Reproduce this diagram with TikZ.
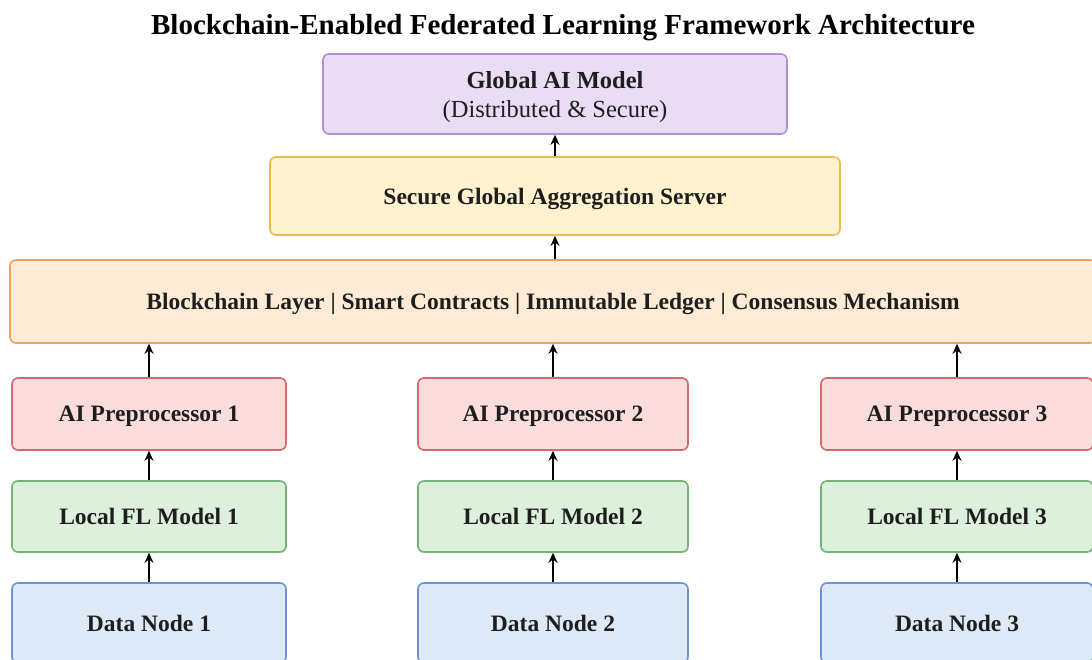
\documentclass[tikz,border=0pt]{standalone}
\usepackage{fontspec}
\setmainfont{Liberation Serif}
\usetikzlibrary{arrows.meta}
\definecolor{purpleFill}{HTML}{EADCF5}
\definecolor{purpleLine}{HTML}{B18FD6}
\definecolor{yellowFill}{HTML}{FFF3CF}
\definecolor{yellowLine}{HTML}{E8BC55}
\definecolor{orangeFill}{HTML}{FDEBD6}
\definecolor{orangeLine}{HTML}{EFA35A}
\definecolor{redFill}{HTML}{FADCDC}
\definecolor{redLine}{HTML}{D46A6A}
\definecolor{greenFill}{HTML}{DCF0DC}
\definecolor{greenLine}{HTML}{76B276}
\definecolor{blueFill}{HTML}{DEE9F8}
\definecolor{blueLine}{HTML}{6E95D2}
\definecolor{textDark}{HTML}{1E1E1E}
\tikzset{
  layerbox/.style={draw, rounded corners=6pt, line width=1.6pt, align=center,
    font=\fontsize{23.5}{27}\selectfont\bfseries, text=textDark, inner sep=0pt,
    text depth=0pt},
  flow/.style={-{Stealth[length=10pt,width=9pt]}, line width=2.2pt, black},
}
\begin{document}
\begin{tikzpicture}[x=1pt,y=-1pt]
  \useasboundingbox (0,0) rectangle (1092,659);
  \clip (0,0) rectangle (1092,659);
  \fill[white] (0,0) rectangle (1092,659);

  \node[font=\fontsize{29}{34}\selectfont\bfseries, text=black] (title) at (563,28)
    {Blockchain-Enabled Federated Learning Framework Architecture};

  \node[layerbox, fill=purpleFill, draw=purpleLine, minimum width=464pt, minimum height=80pt,
        font=\fontsize{24.5}{29}\selectfont\bfseries, text depth=0pt]
    (global) at (555,94) {Global AI Model\\\mdseries (Distributed \& Secure)};
  \node[layerbox, fill=yellowFill, draw=yellowLine, minimum width=570pt, minimum height=78pt]
    (agg) at (555,196) {Secure Global Aggregation Server};
  \node[layerbox, fill=orangeFill, draw=orangeLine, minimum width=1086pt, minimum height=83pt]
    (chain) at (553,301.5) {Blockchain Layer | Smart Contracts | Immutable Ledger | Consensus Mechanism};

  \foreach \i/\cx/\w in {1/149/274, 2/553/270, 3/957/272} {
    \node[layerbox, fill=redFill, draw=redLine, minimum width=\w pt, minimum height=72pt]
      (pre\i) at (\cx,414) {AI Preprocessor \i};
    \node[layerbox, fill=greenFill, draw=greenLine, minimum width=\w pt, minimum height=71pt]
      (fl\i) at (\cx,516.5) {Local FL Model \i};
    \node[layerbox, fill=blueFill, draw=blueLine, minimum width=\w pt, minimum height=80pt]
      (data\i) at (\cx,623) {Data Node \i};
    \draw[flow] (data\i.north) -- (fl\i.south);
    \draw[flow] (fl\i.north) -- (pre\i.south);
    \draw[flow] (pre\i.north) -- (pre\i.north |- chain.south);
  }
  \draw[flow] (agg.north) -- (global.south);
  \draw[flow] (chain.north -| agg.south) -- (agg.south);
\end{tikzpicture}
\end{document}
